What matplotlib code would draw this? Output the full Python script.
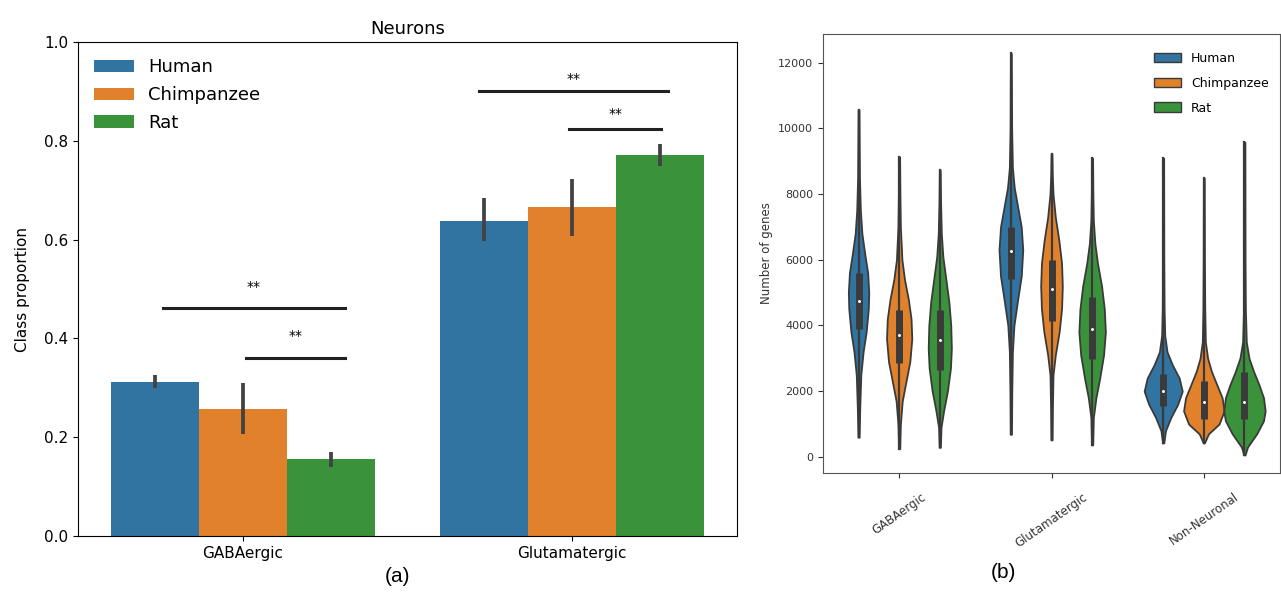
import numpy as np
import matplotlib
matplotlib.use("Agg")
import matplotlib.pyplot as plt
from matplotlib.patches import Patch

species = ["Human", "Chimpanzee", "Rat"]
colors = ["#3274a1", "#e1812c", "#3a923a"]

# (a) neuron class proportion, bar height and CI ends
bar_groups = ["GABAergic", "Glutamatergic"]
human_prop = [0.312, 0.638]
chimp_prop = [0.258, 0.666]
rat_prop = [0.155, 0.771]
human_lo = [0.300, 0.597]
human_hi = [0.326, 0.684]
chimp_lo = [0.207, 0.607]
chimp_hi = [0.310, 0.723]
rat_lo = [0.140, 0.748]
rat_hi = [0.171, 0.794]

# significance brackets (group index, x from, x to, line y, star y)
sig_group = [0, 0, 1, 1]
sig_x0 = [-0.243, 0.01, -0.283, -0.01]
sig_x1 = [0.31, 0.31, 0.292, 0.27]
sig_y = [0.462, 0.360, 0.900, 0.824]
sig_star_y = [0.505, 0.405, 0.925, 0.855]

# (b) number of genes, violin outlines
vio_groups = ["GABAergic", "Glutamatergic", "Non-Neuronal"]
human_y = [
    [600, 1500, 2500, 3200, 3800, 4500, 5000, 5600, 6200, 6800, 7500, 8500, 10560],
    [690, 2000, 3200, 4000, 4800, 5500, 6300, 7000, 7600, 8200, 8800, 10000, 12280],
    [425, 800, 1200, 1600, 2000, 2400, 2800, 3200, 3700, 4500, 6000, 9090],
]
human_w = [
    [0.004, 0.008, 0.015, 0.03, 0.05, 0.064, 0.067, 0.06, 0.04, 0.022, 0.012, 0.006, 0.003],
    [0.004, 0.006, 0.01, 0.02, 0.045, 0.068, 0.078, 0.068, 0.045, 0.022, 0.01, 0.005, 0.003],
    [0.004, 0.015, 0.05, 0.095, 0.125, 0.105, 0.06, 0.025, 0.01, 0.006, 0.004, 0.003],
]
chimp_y = [
    [250, 1000, 1700, 2300, 2900, 3600, 4200, 4800, 5400, 6000, 7000, 8000, 9130],
    [520, 1500, 2500, 3100, 3800, 4500, 5200, 5900, 6600, 7300, 8000, 8600, 9210],
    [425, 700, 1000, 1400, 1800, 2200, 2600, 3000, 3500, 4500, 6000, 8480],
]
chimp_w = [
    [0.004, 0.008, 0.02, 0.045, 0.07, 0.083, 0.078, 0.06, 0.035, 0.018, 0.008, 0.005, 0.003],
    [0.004, 0.006, 0.01, 0.025, 0.05, 0.066, 0.071, 0.066, 0.048, 0.025, 0.01, 0.005, 0.003],
    [0.004, 0.03, 0.1, 0.133, 0.12, 0.085, 0.05, 0.025, 0.01, 0.006, 0.004, 0.003],
]
rat_y = [
    [290, 900, 1400, 2000, 2700, 3300, 4000, 4700, 5400, 6100, 6800, 7800, 8720],
    [365, 1200, 1800, 2400, 3100, 3800, 4500, 5200, 5900, 6500, 7200, 8000, 9090],
    [60, 300, 700, 1100, 1400, 1800, 2200, 2600, 3000, 3500, 4500, 6000, 9580],
]
rat_w = [
    [0.004, 0.008, 0.025, 0.05, 0.07, 0.076, 0.072, 0.06, 0.04, 0.02, 0.01, 0.005, 0.003],
    [0.004, 0.008, 0.025, 0.05, 0.075, 0.087, 0.08, 0.062, 0.035, 0.018, 0.008, 0.005, 0.003],
    [0.004, 0.02, 0.08, 0.125, 0.136, 0.125, 0.095, 0.06, 0.03, 0.012, 0.006, 0.004, 0.003],
]
human_q1 = [3900, 5400, 1550]
human_med = [4730, 6270, 2000]
human_q3 = [5600, 7000, 2530]
chimp_q1 = [2870, 4130, 1150]
chimp_med = [3700, 5100, 1680]
chimp_q3 = [4480, 6000, 2300]
rat_q1 = [2640, 2985, 1150]
rat_med = [3560, 3900, 1680]
rat_q3 = [4480, 4880, 2580]

fig = plt.figure(figsize=(12.81, 5.92), dpi=100)

# ---------- (a) bars ----------
ax1 = fig.add_axes([78 / 1281, 1 - 536 / 592, 659 / 1281, 494 / 592])
x = np.arange(len(bar_groups))
bw = 0.8 / 3
offs = [-bw, 0, bw]
props = [human_prop, chimp_prop, rat_prop]
los = [human_lo, chimp_lo, rat_lo]
his = [human_hi, chimp_hi, rat_hi]
for k in range(3):
    ax1.bar(x + offs[k], props[k], width=bw, color=colors[k], label=species[k])
    ax1.vlines(x + offs[k], los[k], his[k], color="#424242", lw=2.7)

for g, x0, x1, y, sy in zip(sig_group, sig_x0, sig_x1, sig_y, sig_star_y):
    ax1.plot([g + x0, g + x1], [y, y], color="#222222", lw=2.2)
    ax1.text(g + (x0 + x1) / 2, sy, "**", ha="center", va="center", fontsize=10)

ax1.set_xlim(-0.5, 1.5)
ax1.set_ylim(0, 1.0)
ax1.set_xticks(x)
ax1.set_xticklabels(bar_groups)
ax1.tick_params(labelsize=11)
ax1.set_ylabel("Class proportion", fontsize=11, labelpad=10)
ax1.set_title("Neurons", fontsize=13)
ax1.legend(loc="upper left", fontsize=13, frameon=False, handlelength=2.2,
           labelspacing=0.55)

# ---------- (b) violins ----------
ax2 = fig.add_axes([823 / 1281, 1 - 473 / 592, 457 / 1281, 439 / 592])
gray = "#3a3a3a"
vys = [human_y, chimp_y, rat_y]
vws = [human_w, chimp_w, rat_w]
q1s = [human_q1, chimp_q1, rat_q1]
meds = [human_med, chimp_med, rat_med]
q3s = [human_q3, chimp_q3, rat_q3]
for k in range(3):
    for g in range(len(vio_groups)):
        ys = np.array(vys[k][g], dtype=float)
        ws = np.array(vws[k][g])
        st = [dict(coords=ys, vals=ws, mean=meds[k][g], median=meds[k][g],
                   min=ys[0], max=ys[-1])]
        pos = g + offs[k]
        parts = ax2.violin(st, positions=[pos], widths=[2 * ws.max()],
                           showmeans=False, showextrema=False, showmedians=False)
        for b in parts["bodies"]:
            b.set_facecolor(colors[k])
            b.set_edgecolor(gray)
            b.set_alpha(1)
            b.set_linewidth(1.3)
        ax2.plot([pos, pos], [ys[0], ys[-1]], color=gray, lw=1.6)
        ax2.plot([pos, pos], [q1s[k][g], q3s[k][g]], color=gray, lw=5,
                 solid_capstyle="butt")
        ax2.scatter([pos], [meds[k][g]], color="white", edgecolor=gray, s=10,
                    zorder=3)

ax2.set_xlim(-0.5, 2.5)
ax2.set_ylim(-490, 12870)
ax2.set_yticks(np.arange(0, 12001, 2000))
ax2.set_xticks(np.arange(len(vio_groups)))
ax2.set_xticklabels(vio_groups, rotation=35, ha="center", color="#333333")
ax2.tick_params(axis="y", labelsize=8, colors="#333333")
ax2.tick_params(axis="x", labelsize=8.5, colors="#333333", pad=9)
ax2.set_ylabel("Number of genes", fontsize=8.5, color="#333333")
for s in ax2.spines.values():
    s.set_color("#555555")
handles = [Patch(facecolor=c, edgecolor=gray, label=n) for c, n in zip(colors, species)]
ax2.legend(handles=handles, loc="upper right", fontsize=9, frameon=False,
           handlelength=2.2, handleheight=0.8, labelspacing=0.95,
           bbox_to_anchor=(1.0, 0.985))

fig.text(398 / 1281, 1 - 577 / 592, "(a)", ha="center", va="center",
         fontsize=15, family="Liberation Sans")
fig.text(1003 / 1281, 1 - 573 / 592, "(b)", ha="center", va="center",
         fontsize=15, family="Liberation Sans")

fig.savefig("out.png", dpi=100)
